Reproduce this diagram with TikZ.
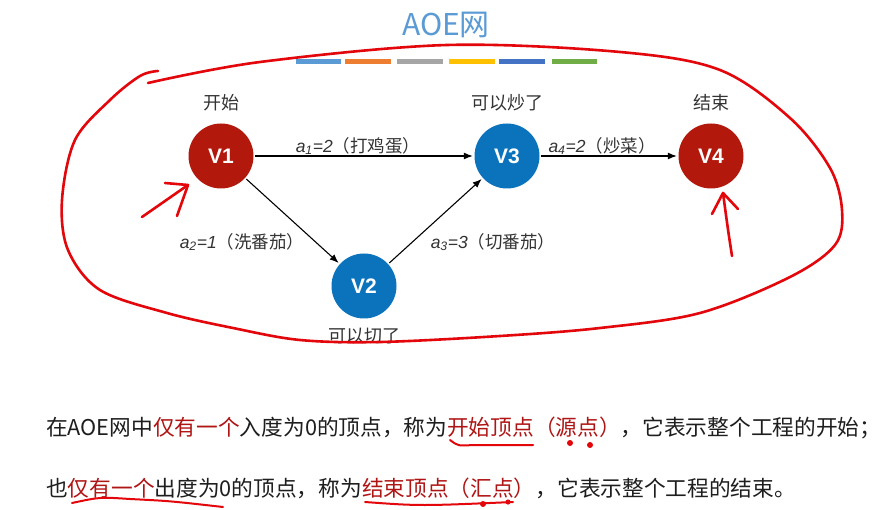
\documentclass[tikz,border=0pt]{standalone}
\usepackage{fontspec}
\setmainfont{Liberation Sans}
\newfontfamily\cjk{Noto Sans CJK SC}
\usetikzlibrary{arrows.meta}
\definecolor{nodered}{HTML}{B2180C}
\definecolor{nodeblue}{HTML}{0A73BC}
\definecolor{titleblue}{HTML}{5B9BD5}
\definecolor{handred}{HTML}{E3060B}
\definecolor{txtred}{HTML}{B01515}
\definecolor{labelgray}{HTML}{333333}
\definecolor{bodygray}{HTML}{1E1E1E}
\definecolor{barA}{HTML}{5B9BD5}
\definecolor{barB}{HTML}{ED7D31}
\definecolor{barC}{HTML}{A5A5A5}
\definecolor{barD}{HTML}{FFC000}
\definecolor{barE}{HTML}{4472C4}
\definecolor{barF}{HTML}{70AD47}
\tikzset{
  vnode/.style={circle, minimum size=65pt, inner sep=0pt, text=white,
    font=\bfseries\fontsize{21}{21}\selectfont},
  vred/.style={vnode, fill=nodered},
  vblue/.style={vnode, fill=nodeblue},
  toplbl/.style={text=labelgray, inner sep=0pt, font=\cjk\fontsize{18}{18}\selectfont},
  elbl/.style={text=labelgray, inner sep=0pt, font=\fontsize{17.5}{17.5}\selectfont},
  arc/.style={-{Latex[length=9pt,width=7pt]}, line width=1.1pt, draw=black, shorten >=1.5pt, shorten <=1.5pt},
  hand/.style={draw=handred, line width=2.6pt, line cap=round, line join=round},
  handthin/.style={draw=handred, line width=2pt, line cap=round, line join=round},
  body/.style={anchor=west, inner sep=0pt, text=bodygray, font=\cjk\fontsize{21.7}{21.7}\selectfont},
}
\begin{document}
\begin{tikzpicture}[x=1pt,y=-1pt]
\fill[white] (0,0) rectangle (891,510);
\path[use as bounding box] (0,0) rectangle (891,510);

% title and bars
\node[text=titleblue, inner sep=0pt, font=\cjk\fontsize{30}{30}\selectfont] (title) at (446,25) {AOE网};
\fill[barA] (296,59) rectangle (341,64);
\fill[barB] (345,59) rectangle (391,64);
\fill[barC] (397,59) rectangle (443,64);
\fill[barD] (449,59) rectangle (495,64);
\fill[barE] (499,59) rectangle (545,64);
\fill[barF] (552,59) rectangle (597,64);

% vertices
\node[vred]  (v1) at (221,156) {V1};
\node[vblue] (v3) at (507,156) {V3};
\node[vred]  (v4) at (711,156) {V4};
\node[vblue] (v2) at (364,286) {V2};

\node[toplbl] (l1) at (221,103) {开始};
\node[toplbl] (l3) at (507,103) {可以炒了};
\node[toplbl] (l4) at (711,103) {结束};
\node[toplbl] (l2) at (364,336) {可以切了};

% arcs
\draw[arc] (v1) -- (v3);
\draw[arc] (v3) -- (v4);
\draw[arc] (v1) -- (v2);
\draw[arc] (v2) -- (v3);

\node[elbl] (e1) at (358,146) {{\itshape a\textsubscript{1}=2}{\cjk（打鸡蛋）}};
\node[elbl] (e4) at (602,146) {{\itshape a\textsubscript{4}=2}{\cjk（炒菜）}};
\node[elbl] (e2) at (242,242) {{\itshape a\textsubscript{2}=1}{\cjk（洗番茄）}};
\node[elbl] (e3) at (493,242) {{\itshape a\textsubscript{3}=3}{\cjk（切番茄）}};

% body text
\node[body] (t1) at (46,428) {在AOE网中\textcolor{txtred}{仅有一个}入度为0的顶点，称为\textcolor{txtred}{开始顶点（源点）}，它表示整个工程的开始；};
\node[body] (t2) at (46,488) {也\textcolor{txtred}{仅有一个}出度为0的顶点，称为\textcolor{txtred}{结束顶点（汇点）}，它表示整个工程的结束。};

% hand-drawn loop
\draw[hand] plot[smooth, tension=0.55] coordinates {
 (148,83) (260,62) (447,45) (620,52) (720,70) (790,118) (830,168) (842,210)
 (835,245) (790,277) (700,313) (600,328) (500,336) (380,342) (300,340)
 (233,328) (167,313) (100,290) (68,250) (62,200) (75,140) (110,100) (140,76) (158,71)};

% hand-drawn arrows
\coordinate (h1a) at (142,217);
\coordinate (h1b) at (188,185);
\draw[hand] (h1a) -- (h1b);
\draw[hand] (165,183) -- (h1b) -- (177,216);
\coordinate (h4a) at (732,256);
\coordinate (h4b) at (723,193);
\draw[hand] (h4a) .. controls (728,230) .. (h4b);
\draw[hand] (712,214) -- (h4b) -- (738,209);

% hand-drawn underlines
\draw[handthin] (450,440) .. controls (458,446) .. (473,445) -- (533,445);
\fill[handred] (570,443) circle (3pt);
\fill[handred] (590,445) circle (3pt);
\draw[handthin] (72,503) .. controls (100,497) .. (130,499) .. controls (170,501) .. (223,507);
\draw[handthin] (365,502) .. controls (420,506) .. (513,502);
\fill[handred] (483,504) circle (3pt);
\fill[handred] (508,502) circle (2.6pt);
\end{tikzpicture}
\end{document}
